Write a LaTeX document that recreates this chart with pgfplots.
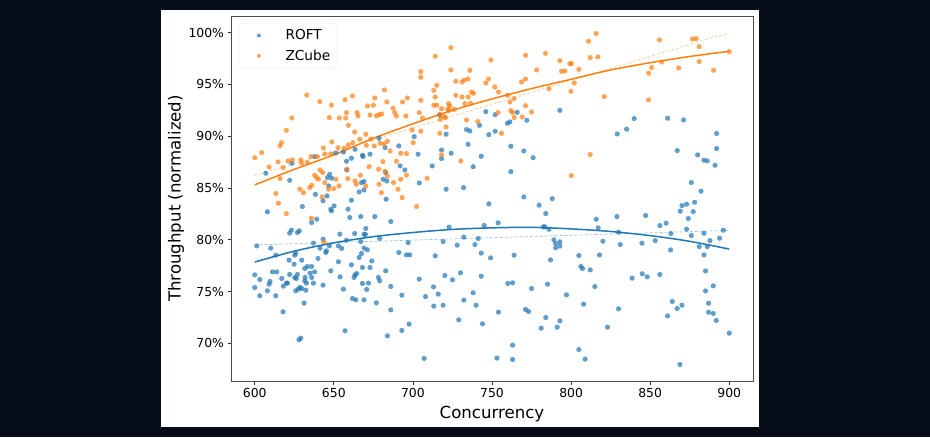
\documentclass[border=0pt]{standalone}
\usepackage{fontspec}
\setmainfont{DejaVu Sans}
\usepackage{pgfplots}
\pgfplotsset{compat=1.18}
\definecolor{bgdark}{RGB}{6,12,24}
\definecolor{tabblue}{RGB}{31,119,180}
\definecolor{taborange}{RGB}{255,127,14}
\begin{document}
\begin{tikzpicture}
\useasboundingbox (0,0) rectangle (930pt,437pt);
\fill[bgdark] (0,0) rectangle (930pt,437pt);
\fill[white] (161pt,10pt) rectangle (759pt,427pt);
\begin{axis}[
  at={(231pt,56pt)}, anchor=south west, scale only axis,
  width=522pt, height=365pt,
  xmin=585, xmax=915, ymin=66.36, ymax=101.61,
  xtick={600,650,...,900}, ytick={70,75,...,100},
  yticklabel={\pgfmathprintnumber{\tick}\%},
  /pgf/number format/assume math mode=true,
  tick pos=left, tick align=outside, major tick length=3.5pt,
  tick style={black!80, line width=0.8pt},
  axis line style={black!70, line width=0.8pt},
  ticklabel style={font=\fontsize{12.4}{14}\selectfont, text=black},
  label style={font=\fontsize{16.6}{19}\selectfont},
  xlabel={Concurrency}, ylabel={Throughput (normalized)},
  xlabel style={at={(axis description cs:0.5,-0.1022)}, anchor=base},
  ylabel style={at={(axis description cs:-0.0966,0.5)}, anchor=base},
  legend style={at={(axis description cs:0.0148,0.9808)}, anchor=north west,
    draw=black!12, rounded corners=2.5pt, fill=white, fill opacity=0.8, draw opacity=0.8, text opacity=1,
    font=\fontsize{13.7}{16}\selectfont, inner xsep=6pt, inner ysep=2.15pt,
    row sep=0pt, column sep=0pt, nodes={inner sep=0pt}, cells={anchor=west}},
  legend image code/.code={\path[draw=none, fill=none] (-14pt,-10.15pt) rectangle (26.6pt,10.15pt); \draw[#1, mark size=2pt] plot coordinates {(0pt,0pt)};},
]
% ROFT
\addplot[only marks, mark=*, mark size=2.6pt, mark options={fill=tabblue, draw=tabblue, fill opacity=0.7, draw opacity=0}] coordinates {
(607.0,86.42) (622.1,85.74) (623.4,87.39) (637.9,88.03) (646.0,86.00) (647.4,86.32) (648.7,85.94) (646.8,85.20)
(651.2,88.38) (656.1,88.48) (658.0,87.58) (658.2,86.74) (661.1,87.87) (663.4,88.74) (668.1,88.16) (668.5,88.03)
(672.9,88.26) (678.6,89.80) (682.4,88.90) (682.8,86.49) (681.2,85.84) (683.5,85.68) (691.1,89.06) (691.9,87.13)
(694.9,86.74) (669.1,85.62) (667.5,85.52) (666.0,84.62) (669.1,84.81) (638.4,84.39) (645.7,84.23)
(608.0,82.70) (630.1,83.21) (643.2,83.76) (648.1,82.95) (648.5,82.79) (650.2,83.27) (659.0,82.95) (661.1,83.82)
(683.1,83.92) (675.9,82.24) (667.0,82.24) (660.1,82.15) (639.2,81.99) (636.0,81.67) (686.0,81.76) (623.2,80.93)
(622.1,80.64) (627.0,80.70) (628.2,80.86) (653.8,80.54) (663.2,80.60) (669.1,80.54) (670.2,81.09) (670.0,80.51)
(679.0,80.12) (643.2,80.06) (637.1,79.67) (641.3,79.19) (645.3,78.93) (644.9,78.77) (647.2,79.41) (652.9,79.41)
(655.0,79.16) (658.0,79.96) (667.0,79.83) (669.1,79.19) (671.2,79.03) (601.3,79.41) (610.1,79.19) (613.3,78.51)
(625.9,78.71) (625.3,78.51) (640.0,78.19) (666.0,78.29) (667.5,78.67) (697.0,79.73) (691.1,78.77) (695.9,78.54)
(698.0,78.54) (621.7,78.03) (624.9,77.64) (629.7,78.03) (631.6,77.22) (633.3,77.42) (636.0,77.42) (635.0,76.77)
(637.9,76.90) (636.0,76.36) (631.8,76.36) (631.6,76.03) (632.7,75.81) (637.1,75.81) (648.1,77.00) (652.9,77.87)
(654.0,76.42) (661.1,77.58) (663.4,76.61) (664.5,76.74) (662.8,76.36) (668.1,77.32) (672.9,77.32) (674.0,77.96)
(682.8,77.00) (678.2,76.36) (679.0,76.03) (668.1,75.78) (671.9,75.81) (670.8,75.20) (686.0,75.49) (600.0,76.61)
(603.2,76.16) (600.0,75.39) (603.2,74.59) (608.0,75.07) (609.1,75.71) (609.7,75.97) (611.2,76.90) (613.9,76.90)
(617.1,76.26) (618.1,75.52) (620.0,75.81) (620.7,75.81) (622.1,76.65) (625.3,76.36) (626.3,76.26) (627.0,76.65)
(629.7,75.29) (627.6,75.23) (625.9,75.07) (628.5,75.39) (632.3,75.13) (643.2,75.62) (656.1,75.23) (613.3,74.59)
(661.8,74.33) (663.9,74.20) (669.1,74.20) (676.9,73.91) (686.0,73.23) (693.0,74.65) (631.2,73.88) (617.9,73.04)
(657.1,71.21) (628.0,70.34) (629.1,70.50) (683.9,70.72) (693.0,71.24) (697.6,71.85)
(748.0,83.47) (779.8,83.34) (784.0,82.53) (722.9,81.22) (745.1,81.38) (753.9,81.63) (782.4,81.25) (783.4,81.25)
(786.0,81.02) (719.1,79.83) (732.2,80.25) (741.3,80.12) (728.0,79.48) (739.2,79.54) (789.1,79.99) (790.2,79.64)
(792.9,79.80) (792.9,79.38) (790.2,79.22) (714.1,78.45) (743.2,78.71) (749.1,78.25) (764.0,78.51) (787.0,78.06)
(804.9,78.48) (806.2,77.42) (807.2,77.22) (704.0,76.20) (720.2,76.55) (725.0,76.13) (730.1,76.81) (743.2,76.48)
(713.0,75.45) (708.0,74.52) (716.0,74.75) (738.1,74.88) (760.0,75.78) (763.0,75.84) (775.0,75.29) (785.1,75.71)
(797.1,74.68) (713.2,73.59) (719.1,73.68) (732.2,74.17) (740.0,73.68) (754.1,73.01) (771.2,73.27) (773.1,73.07)
(807.9,73.78) (729.0,72.27) (744.0,71.88) (784.0,72.49) (792.9,72.17) (781.1,71.46) (791.2,71.56) (763.0,69.82)
(804.9,69.40) (707.1,68.54) (753.1,68.57) (763.0,68.44)
(700.8,89.96) (717.0,92.05) (721.0,90.19) (733.9,90.64) (736.0,90.51) (746.1,92.37) (752.0,92.08) (742.1,91.05)
(748.0,90.15) (752.0,90.48) (759.8,91.25) (761.3,91.38) (765.9,92.31) (772.0,91.54) (792.9,92.50) (734.9,89.22)
(718.1,88.67) (718.1,87.84) (724.2,88.35) (703.3,88.26) (712.2,87.13) (743.2,88.06) (738.1,87.06) (761.9,89.03)
(770.1,88.58) (776.0,87.93) (761.9,86.58) (704.0,85.49) (721.0,84.88) (732.0,85.04) (770.1,84.14) (788.1,83.97)
(839.9,91.70) (835.1,90.68) (829.2,90.22) (861.0,91.74) (871.1,91.57) (867.1,88.61) (880.0,88.20) (884.0,87.68)
(886.1,87.62) (891.0,87.20) (892.0,90.26) (892.0,88.81) (876.0,85.53) (882.1,84.69)
(815.9,81.98) (829.0,82.24) (847.1,82.34) (817.1,81.15) (820.1,79.86) (818.0,78.54) (830.0,80.73) (831.1,79.54)
(844.8,79.67) (853.2,79.92) (856.1,81.37) (860.1,81.60) (863.1,80.60) (862.9,79.02) (869.0,82.76) (870.1,83.30)
(873.0,83.43) (874.1,82.05) (877.2,82.72) (878.1,83.62) (876.0,80.41) (873.0,81.02) (884.0,80.63) (887.8,79.92)
(886.1,79.34) (881.0,79.34) (884.0,78.54) (885.0,76.99) (885.0,75.06) (886.9,73.87) (889.9,75.55) (886.9,73.00)
(889.9,72.88) (891.8,72.20) (896.2,80.92) (893.9,80.15) (900.0,70.98) (838.6,76.29) (845.0,76.71) (848.1,76.42)
(856.1,76.64) (815.0,75.48) (812.1,77.09) (830.0,73.33) (823.0,71.56) (864.0,74.04) (861.0,72.65) (867.1,73.36)
(870.1,73.68) (868.8,67.95) (808.9,68.47)
};
\addlegendentry{ROFT}
% ZCube
\addplot[only marks, mark=*, mark size=2.6pt, mark options={fill=taborange, draw=taborange, fill opacity=0.7, draw opacity=0}] coordinates {
(632.9,93.98) (641.1,93.34) (648.5,92.99) (657.1,93.53) (661.8,93.89) (623.4,91.76) (620.0,90.57) (616.9,89.38)
(616.0,89.06) (604.4,88.42) (600.0,87.93) (609.1,87.03) (614.8,87.52) (617.9,86.97) (621.1,87.61) (623.8,87.71)
(629.1,87.71) (629.7,87.39) (633.3,87.45) (635.6,88.03) (639.6,88.03) (643.4,88.87) (644.3,88.29) (648.1,88.29)
(648.7,89.45) (647.2,91.80) (653.5,91.76) (657.5,91.76) (658.0,92.28) (659.2,91.05) (663.2,90.41) (664.7,92.28)
(665.3,91.96) (670.2,90.19) (671.3,92.92) (672.9,92.05) (675.0,92.99) (675.9,93.69) (676.9,91.96) (678.6,92.08)
(680.3,92.15) (682.0,94.47) (683.5,93.31) (687.5,92.70) (688.5,92.28) (689.6,91.96) (693.4,93.31) (695.5,91.96)
(696.5,93.69) (652.7,88.90) (656.5,88.83) (659.2,89.16) (662.0,89.38) (666.4,89.70) (670.6,89.12) (673.4,89.74)
(675.5,89.06) (679.3,89.32) (681.8,89.25) (683.9,89.51) (685.6,88.58) (692.3,88.35) (695.9,88.32) (689.6,87.58)
(681.0,87.55) (616.0,85.91) (613.3,84.46) (628.5,84.88) (630.8,84.55) (634.8,85.04) (636.0,85.26) (637.9,86.23)
(639.2,86.00) (640.3,85.84) (643.0,86.49) (641.3,86.74) (644.3,85.52) (646.6,84.88) (650.0,84.94) (651.4,85.84)
(653.3,85.20) (658.8,85.91) (658.2,86.81) (663.4,85.68) (664.3,85.36) (666.8,86.23) (670.2,85.20) (672.3,87.06)
(678.4,86.81) (678.6,85.36) (680.1,84.55) (682.4,86.61) (683.9,86.16) (687.7,85.52) (690.6,84.88) (693.2,84.07)
(692.3,85.84) (695.9,86.23) (642.6,84.14)
(615.0,83.53) (620.0,82.53) (635.8,82.08) (643.8,79.80) (702.3,83.21)
(724.0,98.55) (714.1,97.72) (749.3,97.36) (771.2,97.81) (783.8,98.01) (792.9,97.30) (799.2,97.01) (800.3,97.01)
(705.0,96.24) (705.0,95.69) (724.0,96.40) (736.0,96.36) (778.2,96.40) (794.0,96.27) (796.1,96.30) (804.9,96.46)
(715.1,94.92) (713.2,94.43) (727.1,95.30) (731.1,95.24) (732.4,95.43) (734.9,95.53) (746.1,95.14) (747.8,95.53)
(751.8,94.76) (754.1,94.27) (768.7,95.24) (771.2,95.53) (786.0,94.59) (802.0,95.14) (799.9,94.34) (705.0,93.47)
(714.1,93.79) (727.1,93.95) (731.1,93.79) (734.9,93.79) (737.0,94.27) (738.3,94.14) (759.8,93.95) (764.0,93.63)
(761.3,93.31) (771.2,92.95) (713.2,92.99) (715.1,92.99) (718.1,92.66) (722.5,93.15) (723.3,92.92) (721.9,92.60)
(722.9,92.50) (726.1,92.60) (732.8,93.15) (736.4,93.18) (704.0,92.28) (706.1,91.76) (717.0,92.12) (717.4,91.63)
(719.8,91.89) (720.6,91.80) (733.9,91.57) (741.0,91.41) (753.9,92.28) (761.9,92.47) (763.0,92.28) (764.0,91.80)
(769.1,91.86) (775.0,92.34) (699.5,90.60) (705.0,90.48) (717.0,90.28) (721.0,90.89) (756.0,90.28) (700.2,89.38)
(718.1,88.19) (730.3,87.61) (709.0,85.94) (800.1,86.20)
(815.9,99.91) (811.0,99.17) (812.1,97.59) (816.9,97.66) (821.0,93.83) (812.1,88.23) (855.9,99.30) (876.8,99.39)
(879.1,99.43) (881.0,98.65) (881.0,97.21) (857.2,97.17) (850.9,96.63) (849.0,96.08) (868.0,96.60) (890.1,96.37)
(900.0,98.17) (849.0,93.51)
};
\addlegendentry{ZCube}
% linear fits (dashed)
\addplot[forget plot, tabblue, line width=0.7pt, dash pattern=on 3pt off 2pt, opacity=0.45] coordinates {(600,79.5) (900,80.9)};
\addplot[forget plot, taborange, line width=0.7pt, dash pattern=on 3pt off 2pt, opacity=0.45] coordinates {(600,86.2) (900,100.0)};
% smooth trends
\addplot[forget plot, tabblue, line width=1.5pt, smooth] coordinates {
(600,77.85) (625,78.9) (650,79.7) (675,80.3) (700,80.7) (725,81.0) (750,81.15) (775,81.2) (800,81.05) (825,80.8) (850,80.4) (875,79.85) (900,79.1)};
\addplot[forget plot, taborange, line width=1.5pt, smooth] coordinates {
(600,85.3) (625,86.8) (650,88.2) (675,89.8) (700,91.2) (725,92.5) (750,93.6) (775,94.6) (800,95.5) (825,96.4) (850,97.1) (875,97.7) (900,98.2)};
\end{axis}
\end{tikzpicture}
\end{document}
